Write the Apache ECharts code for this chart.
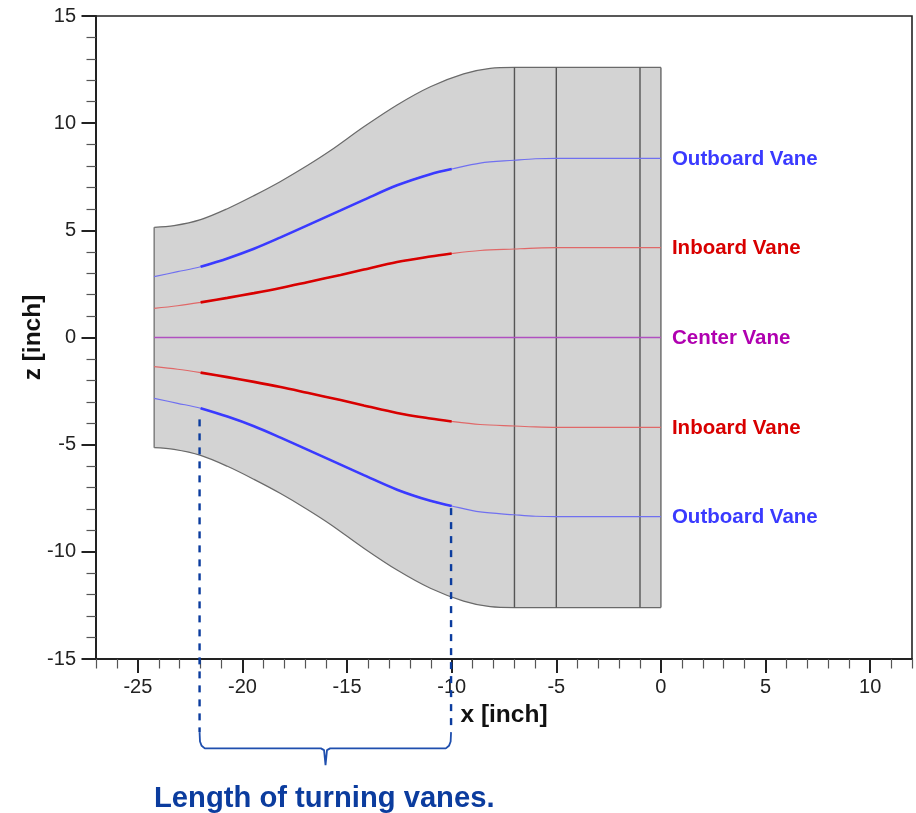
<!DOCTYPE html>
<html><head><meta charset="utf-8">
<style>html,body{margin:0;padding:0;background:#fff}#c{width:916px;height:813px}</style>
<script src="https://cdn.jsdelivr.net/npm/echarts@6/dist/echarts.min.js"></script>
</head><body><div id="c"></div>
<script>
const xMajorTicks = [-25,-20,-15,-10,-5,0,5,10];
const xMinorTicks = [-27,-26,-24,-23,-22,-21,-19,-18,-17,-16,-14,-13,-12,-11,-9,-8,-7,-6,-4,-3,-2,-1,1,2,3,4,6,7,8,9,11,12];

const wallX      = [-24.22,-23.27,-22,-20.72,-19.45,-18.18,-16.9,-15.79,-14.2,-12.61,-11.02,-9.43,-8.16,-7,0];
const wallUpperZ = [5.14,5.22,5.5,6.01,6.62,7.28,8.02,8.72,9.83,10.85,11.7,12.3,12.56,12.6,12.6];
const wallLowerZ = [-5.14,-5.22,-5.5,-6.01,-6.62,-7.28,-8.02,-8.72,-9.83,-10.85,-11.7,-12.3,-12.56,-12.6,-12.6];

const vaneX          = [-24.22,-23.1,-22,-20.72,-19.45,-18.18,-16.9,-15.31,-14.2,-12.61,-11.02,-10,-8.64,-7,-6,-5,0];
const outboardUpperZ = [2.84,3.07,3.3,3.69,4.14,4.67,5.23,5.93,6.42,7.1,7.62,7.86,8.14,8.27,8.34,8.36,8.36];
const outboardLowerZ = [-2.84,-3.07,-3.3,-3.69,-4.14,-4.67,-5.23,-5.93,-6.42,-7.1,-7.62,-7.86,-8.14,-8.27,-8.34,-8.36,-8.36];
const inboardUpperZ  = [1.36,1.48,1.64,1.85,2.07,2.31,2.58,2.92,3.17,3.52,3.78,3.92,4.06,4.13,4.17,4.19,4.19];
const inboardLowerZ  = [-1.36,-1.48,-1.64,-1.85,-2.07,-2.31,-2.58,-2.92,-3.17,-3.52,-3.78,-3.92,-4.06,-4.13,-4.17,-4.19,-4.19];
const centerX = [-24.22,0];
const centerZ = [0,0];

const stationX = [-7,-5,-1];
const stationTopZ = 12.6, stationBottomZ = -12.6;
const inletX = -24.22, inletZ = 5.14, outletX = 0, outletZ = 12.6;

const vaneStartX = -22, vaneEndX = -10;
const dashLeftX  = [-22.05,-22.05], dashLeftZ  = [-3.82,-18.41];
const dashRightX = [-10.03,-10.03], dashRightZ = [-7.96,-18.41];
const bracketX = [-22.05,-22.03,-21.95,-21.8,-16.25,-16.1,-16.03,-15.96,-15.81,-10.28,-10.13,-10.05,-10.03];
const bracketZ = [-18.41,-18.85,-19.05,-19.17,-19.17,-19.25,-19.95,-19.25,-19.17,-19.17,-19.05,-18.85,-18.41];

const OUT='#3a3aff', OUT_THIN='#7070f0', IN='#d80000', IN_THIN='#e06868', MID='#b000b0', MID_THIN='#b050c0', NAVY='#0b3c9e';
const FONT='"Liberation Sans", Arial, sans-serif';
const LABEL={fontFamily:FONT,fontWeight:'bold',fontSize:20.5,distance:11,offset:[0,1]};

const zip=(a,b)=>a.map((v,i)=>[v,b[i]]);
const line=(data,color,width,extra)=>Object.assign({type:'line',data,symbol:'none',clip:false,silent:true,
  lineStyle:{color,width},itemStyle:{color}},extra||{});
const curve={smooth:0.33};
const vane=(zs,thin,thick,name,labelColor)=>{
  const pts=zip(vaneX,zs);
  return [
    line(pts,thin,1.2,{...curve,endLabel:{show:true,formatter:name,color:labelColor,...LABEL}}),
    line(pts.filter(p=>p[0]>=vaneStartX&&p[0]<=vaneEndX),thick,2.6,curve)
  ];
};

const series=[
  line(zip(wallX,wallUpperZ),'#6a6a6a',1.2,{...curve,areaStyle:{color:'#d3d3d3',opacity:1}}),
  line(zip(wallX,wallLowerZ),'#6a6a6a',1.2,{...curve,areaStyle:{color:'#d3d3d3',opacity:1}}),
  line([[inletX,inletZ],[inletX,-inletZ]],'#777',1.4),
  line([[outletX,outletZ],[outletX,-outletZ]],'#666',1.4),
  ...stationX.map(x=>line([[x,stationTopZ],[x,stationBottomZ]],'#555',1.4)),
  ...vane(outboardUpperZ,OUT_THIN,OUT,'Outboard Vane',OUT),
  ...vane(inboardUpperZ,IN_THIN,IN,'Inboard Vane',IN),
  line(zip(centerX,centerZ),MID_THIN,1.3,{endLabel:{show:true,formatter:'Center Vane',color:MID,...LABEL}}),
  ...vane(inboardLowerZ,IN_THIN,IN,'Inboard Vane',IN),
  ...vane(outboardLowerZ,OUT_THIN,OUT,'Outboard Vane',OUT),
  line(zip(dashLeftX,dashLeftZ),NAVY,2.4,{lineStyle:{color:NAVY,width:2.4,type:[7,7]}}),
  line(zip(dashRightX,dashRightZ),NAVY,2.4,{lineStyle:{color:NAVY,width:2.4,type:[7,7]}}),
  line(zip(bracketX,bracketZ),'#1f4fae',1.8)
];

const chart=echarts.init(document.getElementById('c'),null,{renderer:'canvas'});
chart.setOption({
  animation:false,
  backgroundColor:'#fff',
  grid:{show:true,left:96,right:4,top:16,bottom:154,borderColor:'#222',borderWidth:1.6,backgroundColor:'transparent',containLabel:false},
  xAxis:[{
    type:'value',min:-27,max:12,position:'bottom',
    name:'x [inch]',nameLocation:'middle',nameGap:44,nameMoveOverlap:false,
    nameTextStyle:{fontFamily:FONT,fontWeight:'bold',fontSize:24.5,color:'#111'},
    axisLine:{show:true,onZero:false,lineStyle:{color:'#222',width:2}},
    axisTick:{show:true,length:14,customValues:xMajorTicks,lineStyle:{color:'#222',width:2}},
    axisLabel:{show:true,customValues:xMajorTicks,margin:18,fontFamily:FONT,fontSize:20,color:'#222',showMinLabel:true,showMaxLabel:true},
    splitLine:{show:false}
  },{
    type:'value',min:-27,max:12,position:'bottom',
    axisLine:{show:false,onZero:false},
    axisTick:{show:true,length:9.5,customValues:xMinorTicks,lineStyle:{color:'#555',width:1.2}},
    axisLabel:{show:false},splitLine:{show:false}
  }],
  yAxis:[{
    type:'value',min:-15,max:15,interval:5,position:'left',
    name:'z [inch]',nameLocation:'middle',nameGap:50,nameRotate:90,nameMoveOverlap:false,
    nameTextStyle:{fontFamily:FONT,fontWeight:'bold',fontSize:24.5,color:'#111'},
    axisLine:{show:true,onZero:false,lineStyle:{color:'#222',width:2}},
    axisTick:{show:true,length:14.5,lineStyle:{color:'#222',width:2}},
    minorTick:{show:true,splitNumber:5,length:9.5,lineStyle:{color:'#555',width:1.2}},
    axisLabel:{show:true,margin:20,fontFamily:FONT,fontSize:20,color:'#222'},
    splitLine:{show:false},minorSplitLine:{show:false}
  }],
  series,
  graphic:[{type:'text',left:154,top:784,silent:true,style:{text:'Length of turning vanes.',fill:NAVY,font:'bold 29.2px '+FONT}}]
});
</script></body></html>
